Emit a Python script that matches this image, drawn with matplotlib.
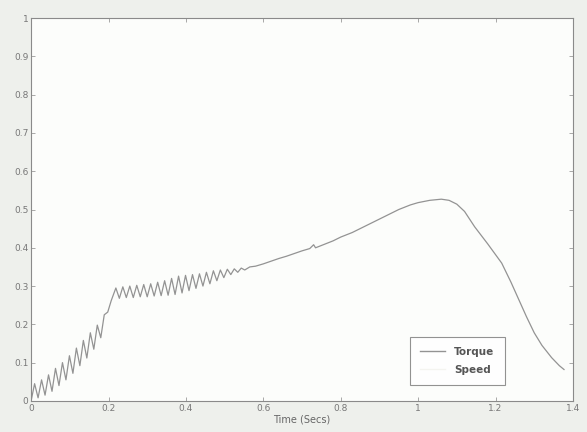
import matplotlib
matplotlib.use("Agg")
import matplotlib.pyplot as plt
from matplotlib.lines import Line2D

# ---- data ----
time_s = [
    0.000, 0.009, 0.018, 0.027, 0.036, 0.045, 0.054, 0.063, 0.072, 0.081,
    0.090, 0.099, 0.108, 0.117, 0.126, 0.135, 0.144, 0.153, 0.162, 0.171,
    0.180, 0.189, 0.198, 0.207, 0.219, 0.228, 0.237, 0.246, 0.255, 0.264,
    0.273, 0.282, 0.291, 0.300, 0.309, 0.318, 0.327, 0.336, 0.345, 0.354,
    0.363, 0.372, 0.381, 0.390, 0.399, 0.408, 0.417, 0.426, 0.435, 0.444,
    0.453, 0.462, 0.471, 0.480, 0.489, 0.498, 0.507, 0.516, 0.525, 0.534,
    0.543, 0.552, 0.565, 0.580, 0.600, 0.620, 0.640, 0.660, 0.680, 0.700,
    0.720, 0.730, 0.735, 0.750, 0.780, 0.800, 0.830, 0.860, 0.890, 0.920,
    0.950, 0.980, 1.000, 1.030, 1.060, 1.080, 1.100, 1.120, 1.146, 1.180,
    1.216, 1.240, 1.260, 1.280, 1.300, 1.320, 1.345, 1.365, 1.377,
]
torque = [
    0.000, 0.045, 0.008, 0.055, 0.015, 0.068, 0.025, 0.085, 0.040, 0.100,
    0.055, 0.118, 0.072, 0.138, 0.092, 0.158, 0.112, 0.178, 0.135, 0.198,
    0.165, 0.225, 0.232, 0.262, 0.295, 0.268, 0.298, 0.270, 0.300, 0.270,
    0.302, 0.272, 0.304, 0.272, 0.306, 0.274, 0.310, 0.275, 0.314, 0.276,
    0.320, 0.278, 0.326, 0.282, 0.328, 0.288, 0.330, 0.294, 0.332, 0.300,
    0.336, 0.306, 0.340, 0.314, 0.342, 0.322, 0.344, 0.330, 0.345, 0.336,
    0.347, 0.342, 0.350, 0.352, 0.358, 0.365, 0.372, 0.378, 0.385, 0.392,
    0.398, 0.408, 0.400, 0.406, 0.418, 0.428, 0.440, 0.455, 0.470, 0.485,
    0.500, 0.512, 0.518, 0.524, 0.527, 0.524, 0.514, 0.495, 0.455, 0.410,
    0.360, 0.310, 0.265, 0.220, 0.178, 0.145, 0.113, 0.092, 0.082,
]
x_ticks = [0, 0.2, 0.4, 0.6, 0.8, 1.0, 1.2, 1.4]
x_tick_labels = ["0", "0.2", "0.4", "0.6", "0.8", "1", "1.2", "1.4"]
y_ticks = [0, 0.1, 0.2, 0.3, 0.4, 0.5, 0.6, 0.7, 0.8, 0.9, 1.0]
y_tick_labels = ["0", "0.1", "0.2", "0.3", "0.4", "0.5", "0.6", "0.7", "0.8", "0.9", "1"]
legend_labels = ["Torque", "Speed"]
x_label = "Time (Secs)"

fig = plt.figure(figsize=(5.87, 4.32), dpi=100, facecolor="#eef0ec")
ax = fig.add_axes([0.053, 0.072, 0.923, 0.886])
ax.set_facecolor("#fcfdfb")

ax.plot(time_s, torque, color="#939393", lw=0.9)

ax.set_xlim(0, 1.4)
ax.set_ylim(0, 1)
ax.set_xticks(x_ticks)
ax.set_xticklabels(x_tick_labels)
ax.set_yticks(y_ticks)
ax.set_yticklabels(y_tick_labels)
ax.tick_params(direction="in", top=True, right=True, length=3, width=0.6,
               colors="#9a9a9a", labelsize=6.5, labelcolor="#777777", pad=2)
for s in ax.spines.values():
    s.set_color("#8a8a8a")
    s.set_linewidth(0.8)
ax.set_xlabel(x_label, fontsize=7, color="#666666", labelpad=1)

handles = [Line2D([], [], color="#939393", lw=1.0),
           Line2D([], [], color="#f4f4f0", lw=1.0)]
leg = ax.legend(handles, legend_labels, loc="lower left",
                bbox_to_anchor=(0.689, 0.028, 0.195, 0.14), mode="expand",
                prop={"size": 7.5, "weight": "bold"}, frameon=True,
                fancybox=False, handlelength=2.4, borderpad=0.95,
                labelspacing=0.8, handletextpad=0.9)
leg.get_frame().set_edgecolor("#777777")
leg.get_frame().set_linewidth(0.8)
for t in leg.get_texts():
    t.set_color("#555555")

fig.savefig("out.png", dpi=100, facecolor=fig.get_facecolor())
